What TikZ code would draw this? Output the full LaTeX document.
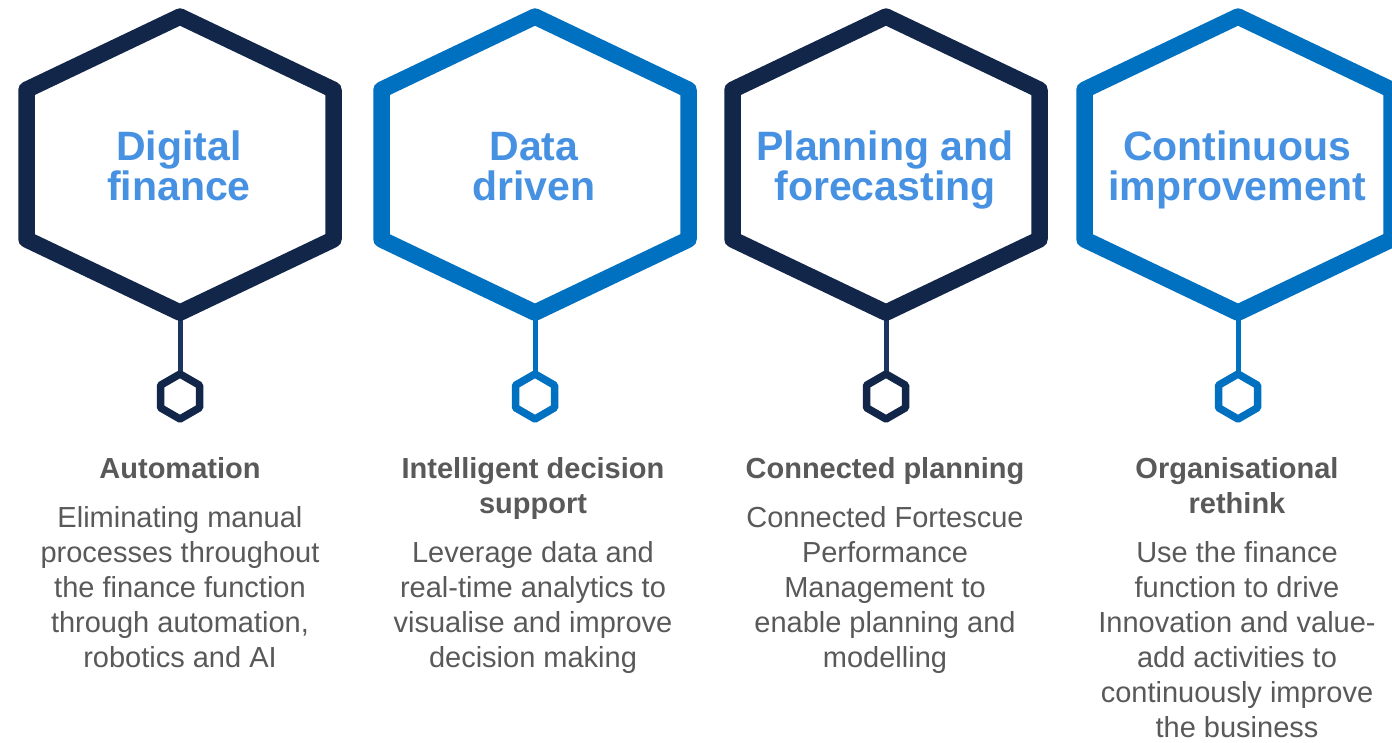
\documentclass[tikz,border=0pt]{standalone}
\usepackage{fontspec}
\setmainfont{Liberation Sans}
\definecolor{navy}{HTML}{12264A}
\definecolor{navyline}{HTML}{1B3461}
\definecolor{bblue}{HTML}{0070C0}
\definecolor{ttl}{HTML}{4691E1}
\definecolor{txt}{HTML}{595959}
\tikzset{
  bighex/.style={line width=16.5pt, line join=round},
  smallhex/.style={line width=7.5pt, line join=round},
  stem/.style={line width=5pt},
  ttlline/.style={anchor=base, inner sep=0pt, text=ttl, font=\fontsize{41}{40}\selectfont\bfseries},
  headline/.style={anchor=base, inner sep=0pt, text=txt, font=\fontsize{29}{35}\selectfont\bfseries},
  bodyline/.style={anchor=base, inner sep=0pt, text=txt, font=\fontsize{29}{35}\selectfont},
}
\begin{document}
\begin{tikzpicture}[x=1pt,y=-1pt]
\useasboundingbox (0,0) rectangle (1392,742);
\fill[white] (0,0) rectangle (1392,742);
\foreach \i/\cx/\col/\lc in {1/180/navy/navyline, 2/535/bblue/bblue, 3/886/navy/navyline, 4/1238/bblue/bblue}{
  \coordinate (h\i) at (\cx,164.6);
  \coordinate (h\i b) at (\cx,312.5);
  \coordinate (s\i) at (\cx,396.5);
  \coordinate (s\i t) at (\cx,374);
  \draw[stem,\lc] (h\i b) -- (s\i t);
  \draw[bighex,\col,shift={(\cx,164.6)}] (0,-148) -- (153.5,-74.8) -- (153.5,74.8) -- (0,148) -- (-153.5,74.8) -- (-153.5,-74.8) -- cycle;
  \draw[smallhex,\col,shift={(\cx,396.5)}] (0,-22.5) -- (19.5,-11.25) -- (19.5,11.25) -- (0,22.5) -- (-19.5,11.25) -- (-19.5,-11.25) -- cycle;
}
% titles
\node[ttlline] (t1a) at (179,160) {Digital};
\node[ttlline] (t1b) at (179,200) {finance};
\node[ttlline] (t2a) at (534,160) {Data};
\node[ttlline] (t2b) at (534,200) {driven};
\node[ttlline] (t3a) at (885,160) {Planning and};
\node[ttlline] (t3b) at (885,200) {forecasting};
\node[ttlline] (t4a) at (1237,160) {Continuous};
\node[ttlline] (t4b) at (1237,200) {improvement};
% headings
\node[headline] (k1a) at (180,478) {Automation};
\node[headline] (k2a) at (533,478) {Intelligent decision};
\node[headline] (k2b) at (533,513) {support};
\node[headline] (k3a) at (885,478) {Connected planning};
\node[headline] (k4a) at (1237,478) {Organisational};
\node[headline] (k4b) at (1237,513) {rethink};
% body texts
\foreach \t [count=\k] in {Eliminating manual, processes throughout, the finance function, {through automation,}, robotics and AI}
  \node[bodyline] (b1-\k) at (180,{527+35*(\k-1)}) {\t};
\foreach \t [count=\k] in {Leverage data and, real-time analytics to, visualise and improve, decision making}
  \node[bodyline] (b2-\k) at (533,{562+35*(\k-1)}) {\t};
\foreach \t [count=\k] in {Connected Fortescue, Performance, Management to, enable planning and, modelling}
  \node[bodyline] (b3-\k) at (885,{527+35*(\k-1)}) {\t};
\foreach \t [count=\k] in {Use the finance, function to drive, Innovation and value-, add activities to, continuously improve, the business}
  \node[bodyline] (b4-\k) at (1237,{562+35*(\k-1)}) {\t};
\end{tikzpicture}
\end{document}
